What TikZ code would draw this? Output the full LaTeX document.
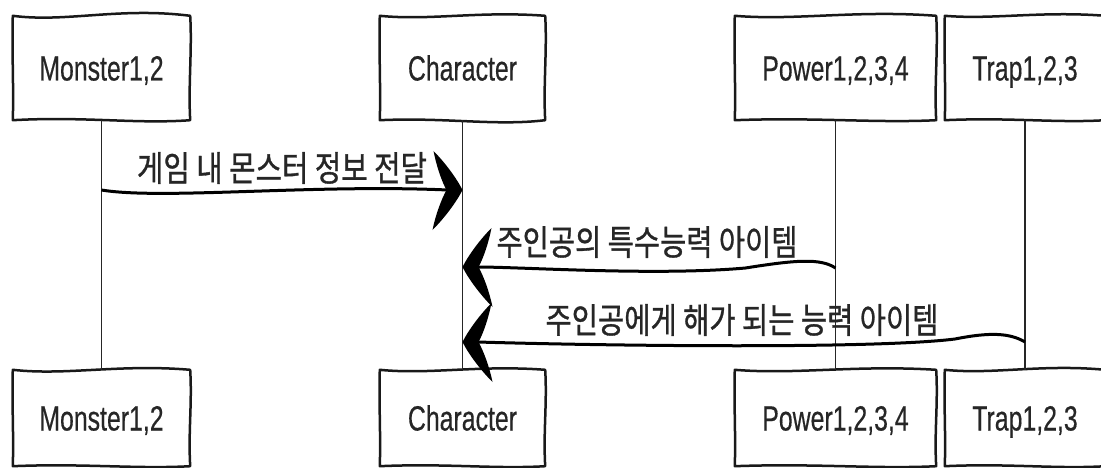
\documentclass[tikz,border=0pt]{standalone}
\usepackage{fontspec}
\setmainfont[FakeBold=0.5]{Liberation Sans}
\newfontfamily\krfont[FakeBold=1]{Noto Sans CJK KR}
\usepackage{graphicx}
\usetikzlibrary{calc}
\newcommand\wavy[5]{\draw[boxline] (#1.north west)
 .. controls ($(#1.north west)!0.3!(#1.north east)+(0,#2)$) and ($(#1.north west)!0.6!(#1.north east)+(0,#3)$) .. (#1.north east)
 .. controls ($(#1.north east)+(2,35)$) and ($(#1.south east)+(-2,-35)$) .. (#1.south east)
 .. controls ($(#1.south east)!0.3!(#1.south west)+(0,#4)$) and ($(#1.south east)!0.6!(#1.south west)+(0,#5)$) .. (#1.south west)
 .. controls ($(#1.south west)+(1,-35)$) and ($(#1.north west)+(-1,35)$) .. cycle;}
\newcommand\arrhead[2]{\fill[black,shift={(#1)},xscale=#2] (0,0)
 .. controls (-6,-12) and (-18,-28) .. (-29,-39)
 .. controls (-26,-24) and (-21,-9) .. (-16,0)
 .. controls (-21,9) and (-27,25) .. (-30,40)
 .. controls (-18,28) and (-6,12) .. (0,0) -- cycle;}
\begin{document}
\begin{tikzpicture}[x=1pt,y=-1pt,
 actor/.style={inner sep=0pt, text height=25pt, text depth=0pt, font=\fontsize{35}{40}\selectfont, text=black!85},
 topbox/.style={actor, minimum height=104pt},
 botbox/.style={actor, minimum height=96pt},
 boxline/.style={line width=2.5pt, black!90, line join=round},
 life/.style={line width=1.3pt, black!85},
 msg/.style={line width=3pt, black},
 lab/.style={inner sep=0pt, font=\krfont\fontsize{35}{40}\selectfont, text=black!85}]
\useasboundingbox (0,0) rectangle (1101,468);
% top actors
\node[topbox, minimum width=177pt] (mon1) at (101.5,68) {\scalebox{0.71}[1]{Monster1,2}};
\node[topbox, minimum width=165pt] (char1) at (462.5,68) {\scalebox{0.71}[1]{Character}};
\node[topbox, minimum width=201pt] (pow1) at (835.5,68) {\scalebox{0.71}[1]{Power1,2,3,4}};
\node[topbox, minimum width=160pt] (trap1) at (1025,68) {\scalebox{0.71}[1]{Trap1,2,3}};
% bottom actors
\node[botbox, minimum width=177pt] (mon2) at (101.5,418) {\scalebox{0.71}[1]{Monster1,2}};
\node[botbox, minimum width=165pt] (char2) at (462.5,418) {\scalebox{0.71}[1]{Character}};
\node[botbox, minimum width=201pt] (pow2) at (835.5,418) {\scalebox{0.71}[1]{Power1,2,3,4}};
\node[botbox, minimum width=160pt] (trap2) at (1025,418) {\scalebox{0.71}[1]{Trap1,2,3}};
% outlines
\wavy{mon1}{7}{-9}{4}{-4}
\wavy{char1}{5}{-5}{6}{-3}
\wavy{pow1}{5}{-6}{3}{-3}
\wavy{trap1}{4}{-5}{3}{-3}
\wavy{mon2}{6}{-6}{3}{-3}
\wavy{char2}{5}{-5}{3}{-3}
\wavy{pow2}{5}{-5}{3}{-3}
\wavy{trap2}{5}{-6}{3}{-3}
% lifelines
\draw[life] (mon1.south) -- (mon2.north);
\draw[life] (char1.south) -- (char2.north);
\draw[life] (pow1.south) -- (pow2.north);
\draw[life] (trap1.south) -- (trap2.north);
% messages
\coordinate (a1s) at (mon1.south |- 0,190);
\coordinate (a1e) at (char1.south |- 0,190);
\draw[msg] (a1s) .. controls ($(a1s)+(60,10)$) and ($(a1e)+(-150,-6)$) .. ($(a1e)+(-15,0)$);
\arrhead{a1e}{1}
\coordinate (a2s) at (pow1.south |- 0,268);
\coordinate (a2e) at (char1.south |- 0,267);
\draw[msg] (a2s) .. controls ($(a2s)+(-15,-10)$) and ($(a2s)+(-40,-8)$) .. ($(a2s)+(-90,0)$)
 .. controls ($(a2s)+(-180,8)$) and ($(a2e)+(60,0)$) .. ($(a2e)+(15,0)$);
\arrhead{a2e}{-1}
\coordinate (a3s) at (trap1.south |- 0,342);
\coordinate (a3e) at (char1.south |- 0,342);
\draw[msg] (a3s) .. controls ($(a3s)+(-15,-9)$) and ($(a3s)+(-35,-10)$) .. ($(a3s)+(-70,-3)$)
 .. controls ($(a3s)+(-150,7)$) and ($(a3e)+(150,4)$) .. ($(a3e)+(15,0)$);
\arrhead{a3e}{-1}
% labels
\node[lab] (l1) at (282,168) {\resizebox{290pt}{\height}{게임 내 몬스터 정보 전달}};
\node[lab] (l2) at (647,242) {\resizebox{301pt}{\height}{주인공의 특수능력 아이템}};
\node[lab] (l3) at (742,320) {\resizebox{393pt}{\height}{주인공에게 해가 되는 능력 아이템}};
\end{tikzpicture}
\end{document}
